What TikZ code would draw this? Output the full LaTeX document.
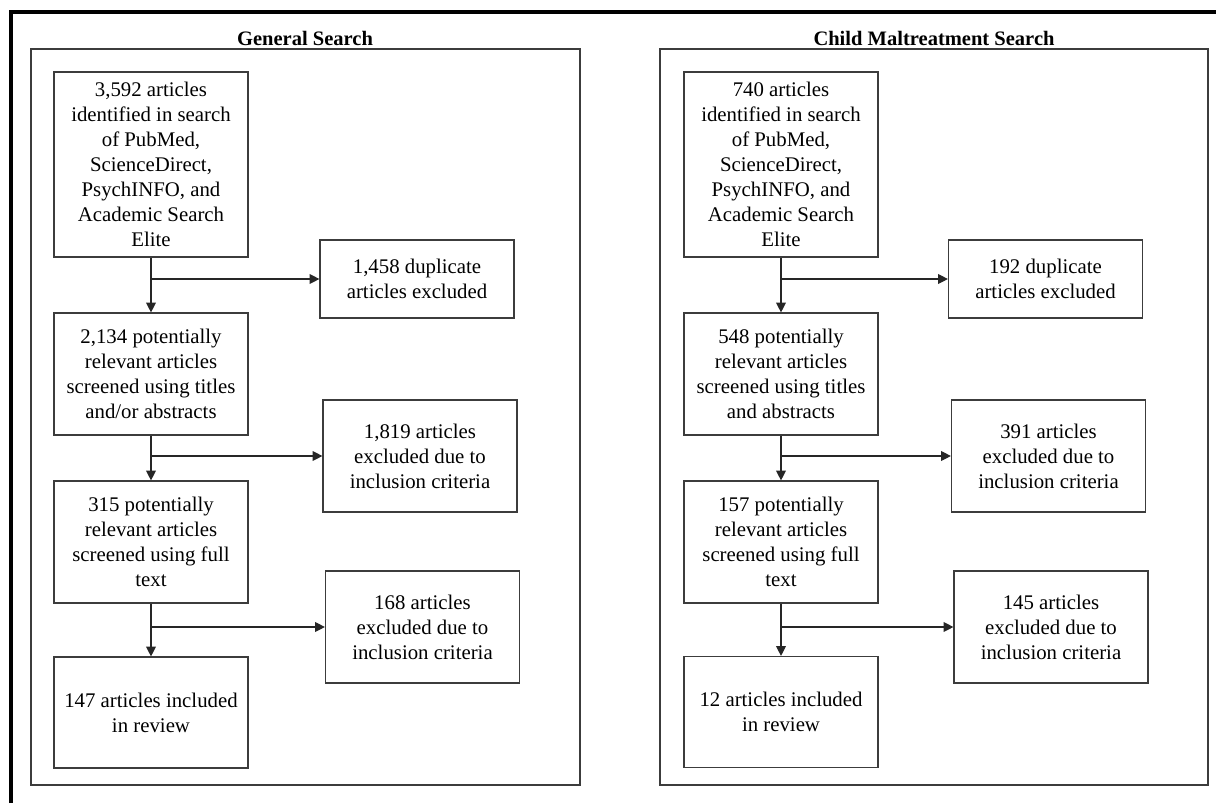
\documentclass[tikz,border=0pt]{standalone}
\usepackage{fontspec}
\setmainfont{Liberation Serif}
\usetikzlibrary{arrows.meta}
\definecolor{boxline}{RGB}{60,60,60}
\tikzstyle{box}=[draw=boxline, line width=.8pt, align=center, inner sep=2pt, font=\fontsize{14.8}{17.8}\selectfont]
\tikzset{stage/.style={minimum width=4.85cm}}
\tikzset{excl/.style={minimum width=4.85cm}}
\tikzset{panel/.style={draw=boxline, line width=.8pt}}
\tikzset{flow/.style={-{Triangle[length=7pt,width=7pt]}, line width=.8pt, color=black!85}}
\tikzstyle{heading}=[anchor=base, font=\fontsize{14.6}{17.5}\selectfont\bfseries]

\begin{document}
\begin{tikzpicture}[x=0.025cm, y=-0.025cm]
  \useasboundingbox (0,0) rectangle (1216,803);
  \draw[line width=2.2pt] (11,803) -- (11,12) -- (1216,12);

  %% General search
  \draw[panel] (31,49) rectangle (580,785);
  \draw (305,45) node[heading] (gtitle) {General Search};
  \draw (151,164.5) node[box,stage,minimum height=4.625cm] (G1) {3,592 articles\\identified in search\\of PubMed,\\ScienceDirect,\\PsychINFO, and\\Academic Search\\Elite};
  \draw (151,374) node[box,stage,minimum height=3.05cm] (G2) {2,134 potentially\\relevant articles\\screened using titles\\and/or abstracts};
  \draw (151,542) node[box,stage,minimum height=3.05cm] (G3) {315 potentially\\relevant articles\\screened using full\\text};
  \draw (151,712.5) node[box,stage,minimum height=2.775cm] (G4) {147 articles included\\in review};

  \draw (417,279) node[box,excl,minimum height=1.95cm] (GX1) {1,458 duplicate\\articles excluded};
  \draw (420,456) node[box,excl,minimum height=2.8cm] (GX2) {1,819 articles\\excluded due to\\inclusion criteria};
  \draw (422.5,627) node[box,excl,minimum height=2.8cm] (GX3) {168 articles\\excluded due to\\inclusion criteria};

  \draw[flow] (G1) -- (G2);
  \draw[flow] (G2) -- (G3);
  \draw[flow] (G3) -- (G4);
  \draw[flow] (G1.south |- GX1) -- (GX1);
  \draw[flow] (G2.south |- GX2) -- (GX2);
  \draw[flow] (G3.south |- GX3) -- (GX3);

  %% Child maltreatment search
  \draw[panel] (660,49) rectangle (1208,785);
  \draw (934,45) node[heading] (ctitle) {Child Maltreatment Search};
  \draw (781,164.5) node[box,stage,minimum height=4.625cm] (C1) {740 articles\\identified in search\\of PubMed,\\ScienceDirect,\\PsychINFO, and\\Academic Search\\Elite};
  \draw (781,374) node[box,stage,minimum height=3.05cm] (C2) {548 potentially\\relevant articles\\screened using titles\\and abstracts};
  \draw (781,542) node[box,stage,minimum height=3.05cm] (C3) {157 potentially\\relevant articles\\screened using full\\text};
  \draw (781,712) node[box,stage,minimum height=2.775cm] (C4) {12 articles included\\in review};

  \draw (1045.5,279) node[box,excl,minimum height=1.95cm] (CX1) {192 duplicate\\articles excluded};
  \draw (1048.5,456) node[box,excl,minimum height=2.8cm] (CX2) {391 articles\\excluded due to\\inclusion criteria};
  \draw (1051,627) node[box,excl,minimum height=2.8cm] (CX3) {145 articles\\excluded due to\\inclusion criteria};

  \draw[flow] (C1) -- (C2);
  \draw[flow] (C2) -- (C3);
  \draw[flow] (C3) -- (C4);
  \draw[flow] (C1.south |- CX1) -- (CX1);
  \draw[flow] (C2.south |- CX2) -- (CX2);
  \draw[flow] (C3.south |- CX3) -- (CX3);
\end{tikzpicture}
\end{document}
